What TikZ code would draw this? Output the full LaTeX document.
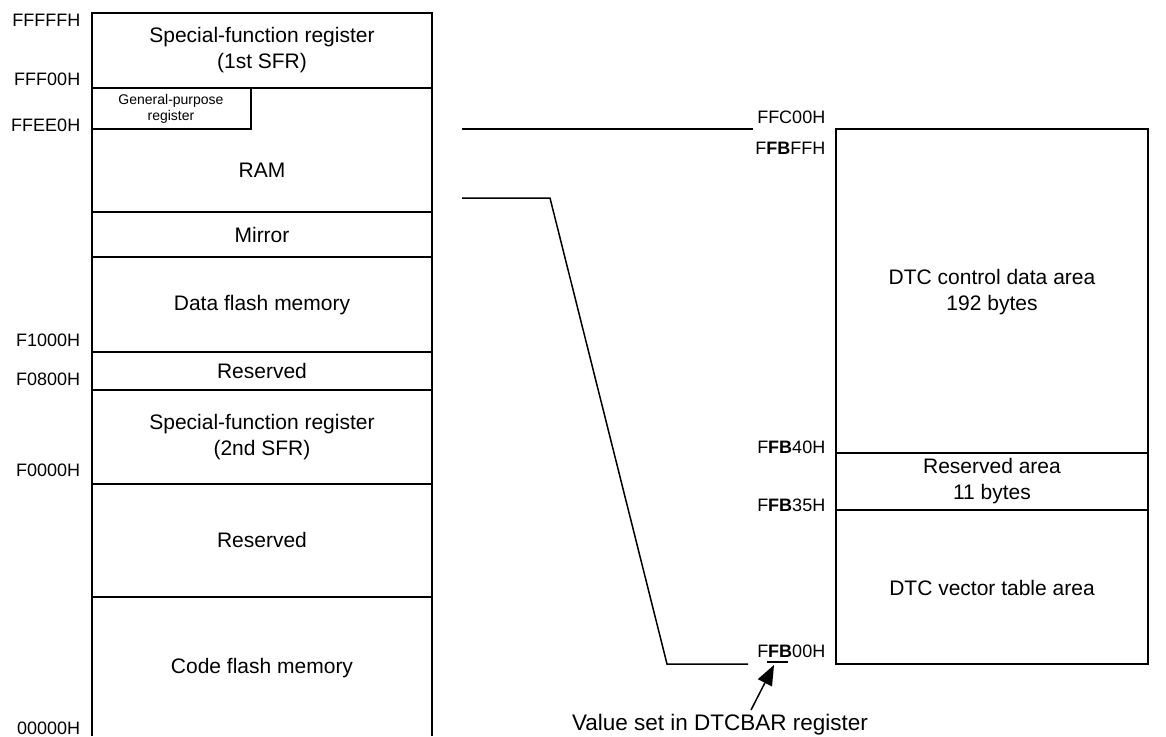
\documentclass[tikz,border=0pt]{standalone}
\usepackage{fontspec}
\setmainfont{Liberation Sans}
\usetikzlibrary{arrows.meta}
\usetikzlibrary{calc}

\begin{document}
\begin{tikzpicture}[x=1pt, y=-1pt, line width=1.5pt, every node/.style={inner sep=0pt, align=center, font=\fontsize{21}{26}\selectfont}, addr/.style={anchor=east, font=\fontsize{18}{20}\selectfont}, small/.style={font=\fontsize{14}{16}\selectfont}]
        \useasboundingbox (0,0) rectangle (1166,736);
        % Define the edges of the two memory maps
        \def\lx{92}
        \def\rx{432}
        \def\dl{836}
        \def\dr{1148}
        \def\mid{262}
        \def\dmid{992}

        % Draw the whole memory space (open at the bottom)
        \draw (\lx,736) -- (\lx,13) -- (\rx,13) -- (\rx,736);
        \foreach \y in {88,212,257,352,390,484,597}
        {
          % Boundary between two areas
          \draw (\lx,\y) -- (\rx,\y);
        }
        \draw (\lx,129) -- (251,129) -- (251,88);

        % Areas of the memory space
        \node (sfr1) at (\mid,50) {Special-function register\\(1st SFR)};
        \node[small] (gpr) at (171,109) {General-purpose\\register};
        \node (ram) at (\mid,170) {RAM};
        \node (mirror) at (\mid,235) {Mirror};
        \node (dflash) at (\mid,305) {Data flash memory};
        \node (rsv1) at (\mid,371) {Reserved};
        \node (sfr2) at (\mid,437) {Special-function register\\(2nd SFR)};
        \node (rsv2) at (\mid,540) {Reserved};
        \node (cflash) at (\mid,668) {Code flash memory};

        % Addresses of the memory space
        \node[addr] (a1) at (81,20) {FFFFFH};
        \node[addr] (a2) at (81,79) {FFF00H};
        \node[addr] (a3) at (81,125) {FFEE0H};
        \node[addr] (a4) at (81,340) {F1000H};
        \node[addr] (a5) at (81,379) {F0800H};
        \node[addr] (a6) at (81,470) {F0000H};
        \node[addr] (a7) at (81,728) {00000H};

        % Draw the DTC area
        \draw (\dl,664) -- (\dl,129) -- (\dr,129) -- (\dr,664) -- cycle;
        \draw (\dl,453) -- (\dr,453);
        \draw (\dl,510) -- (\dr,510);
        \node (ctrl) at (\dmid,292) {DTC control data area\\192 bytes};
        \node (rsv3) at (\dmid,481) {Reserved area\\11 bytes};
        \node (vect) at (\dmid,588) {DTC vector table area};

        % Addresses of the DTC area
        \node[addr] (b1) at (826,117) {FFC00H};
        \node[addr] (b2) at (826,148) {F\textbf{FB}FFH};
        \node[addr] (b3) at (826,447) {F\textbf{FB}40H};
        \node[addr] (b4) at (826,505) {F\textbf{FB}35H};
        \node[addr] (b5) at (826,651) {F\textbf{FB}00H};
        \coordinate (u1) at (767,662);
        \coordinate (u2) at (788,662);
        \draw (u1) -- (u2);

        % Lines from the RAM to the DTC area
        \coordinate (p1) at (462,129);
        \coordinate (q1) at (753,129);
        \coordinate (p2) at (462,198);
        \coordinate (k2) at (550,198);
        \coordinate (m2) at (667,664);
        \coordinate (q2) at (748,664);
        \draw (p1) -- (q1);
        \draw (p2) -- (k2) -- (m2) -- (q2);

        % Note on the DTCBAR register
        \node[font=\fontsize{22.5}{26}\selectfont] (val) at (720,725) {Value set in DTCBAR register};
        \coordinate (tail) at (751,710);
        \coordinate (fb) at (774,665);
        % Arrow head as a filled triangle
        \coordinate (hb) at ($(fb)!20pt!(tail)$);
        \coordinate (h1) at ($(hb)!8pt!90:(fb)$);
        \coordinate (h2) at ($(hb)!8pt!-90:(fb)$);
        \draw (tail) -- (hb);
        \fill (fb) -- (h1) -- (h2) -- cycle;
      \end{tikzpicture}
\end{document}
